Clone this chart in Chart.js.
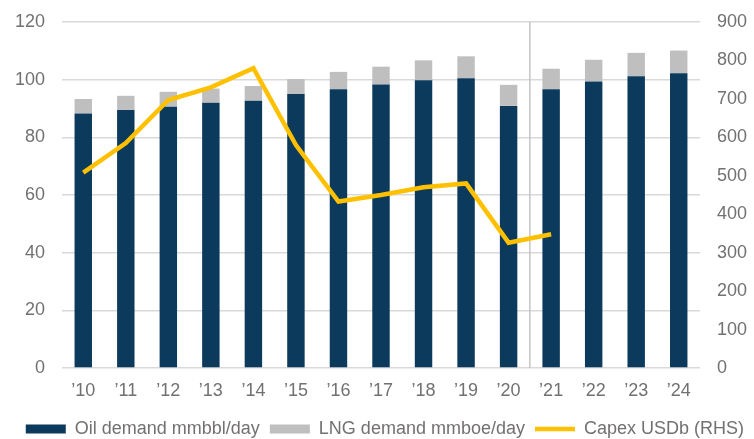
<!DOCTYPE html>
<html>
<head>
<meta charset="utf-8">
<script src="https://cdn.jsdelivr.net/npm/chart.js@4/dist/chart.umd.min.js"></script>
<style>
  html, body { margin: 0; padding: 0; background: #fff; }
  #wrap { width: 754px; height: 439px; position: relative; }
</style>
</head>
<body>
<div id="wrap"><canvas id="chart"></canvas></div>
<script>
// Year labels and series
const years = ['\u201910', '\u201911', '\u201912', '\u201913', '\u201914', '\u201915', '\u201916', '\u201917',
  '\u201918', '\u201919', '\u201920', '\u201921', '\u201922', '\u201923', '\u201924'];
const oilDemand = [88.3, 89.5, 90.6, 92.0, 92.7, 95.0, 96.7, 98.3, 99.8, 100.5, 90.9, 96.7, 99.4, 101.2, 102.2];
const lngDemand = [5.0, 4.9, 5.2, 4.9, 5.1, 5.2, 6.0, 6.2, 6.9, 7.6, 7.3, 7.1, 7.5, 8.1, 7.9];
const capex = [508, 585, 697, 730, 780, 580, 433, 450, 470, 480, 326, 348, null, null, null];
const leftTicks = [0, 20, 40, 60, 80, 100, 120];
const rightTicks = [0, 100, 200, 300, 400, 500, 600, 700, 800, 900];
const dividerAfter = 10; // index of last actual year ('20)

const NAVY = '#0b3a5c';
const GREY = '#bfbfbf';
const GOLD = '#ffc000';
const TEXT = '#737070';

Chart.defaults.font.family = "'Liberation Sans', Arial, sans-serif";
Chart.defaults.font.size = 18;
Chart.defaults.color = TEXT;

// thin vertical line separating actuals from forecast years
const dividerPlugin = {
  id: 'divider',
  beforeDatasetsDraw(chart) {
    const x = chart.scales.x;
    const area = chart.chartArea;
    const px = (x.getPixelForValue(dividerAfter) + x.getPixelForValue(dividerAfter + 1)) / 2;
    const ctx = chart.ctx;
    ctx.save();
    ctx.strokeStyle = '#c4c4c4';
    ctx.lineWidth = 1.5;
    ctx.beginPath();
    ctx.moveTo(px, area.top);
    ctx.lineTo(px, area.bottom);
    ctx.stroke();
    ctx.restore();
  }
};

// fixed axis width, and no extra top/bottom padding from the tick labels
const fixWidth = (w) => (s) => {
  s.width = w;
  s.paddingTop = 0;
  s.paddingBottom = 0;
};

const ctx = document.getElementById('chart').getContext('2d');
new Chart(ctx, {
  type: 'bar',
  data: {
    labels: years,
    datasets: [
      {
        label: 'Oil demand mmbbl/day',
        data: oilDemand,
        backgroundColor: NAVY,
        yAxisID: 'y',
        order: 1,
        pointStyle: 'rect'
      },
      {
        label: 'LNG demand mmboe/day',
        data: lngDemand,
        backgroundColor: GREY,
        yAxisID: 'y',
        order: 1,
        pointStyle: 'rect'
      },
      {
        type: 'line',
        label: 'Capex USDb (RHS)',
        data: capex,
        borderColor: GOLD,
        backgroundColor: GOLD,
        borderWidth: 4.5,
        pointRadius: 0,
        pointStyle: 'line',
        tension: 0,
        yAxisID: 'y1',
        order: 0
      }
    ]
  },
  options: {
    responsive: true,
    maintainAspectRatio: false,
    animation: false,
    layout: { padding: { top: 22, left: 0, right: 0, bottom: 0 } },
    datasets: {
      bar: { barPercentage: 0.41, categoryPercentage: 1 }
    },
    scales: {
      x: {
        stacked: true,
        grid: { display: false, drawTicks: false },
        border: { display: false },
        ticks: { padding: 12, maxRotation: 0, autoSkip: false },
        afterFit: (s) => { s.height = 42; }
      },
      y: {
        stacked: true,
        min: 0,
        max: 120,
        afterBuildTicks: (s) => { s.ticks = leftTicks.map(v => ({ value: v })); },
        grid: { color: '#d9d9d9', lineWidth: 1.5, drawTicks: false },
        border: { display: false },
        ticks: { padding: 17 },
        afterFit: fixWidth(62)
      },
      y1: {
        position: 'right',
        stacked: false,
        min: 0,
        max: 900,
        afterBuildTicks: (s) => { s.ticks = rightTicks.map(v => ({ value: v })); },
        grid: { display: false, drawTicks: false },
        border: { display: false },
        ticks: { padding: 17 },
        afterFit: fixWidth(54)
      }
    },
    plugins: {
      legend: {
        position: 'bottom',
        align: 'end',
        maxHeight: 29,
        labels: {
          usePointStyle: true,
          pointStyleWidth: 40,
          boxHeight: 9,
          padding: 10,
          color: TEXT,
          font: { size: 18 },
          sort: (a, b) => a.datasetIndex - b.datasetIndex
        }
      },
      tooltip: { enabled: false }
    }
  },
  plugins: [dividerPlugin]
});
</script>
</body>
</html>
